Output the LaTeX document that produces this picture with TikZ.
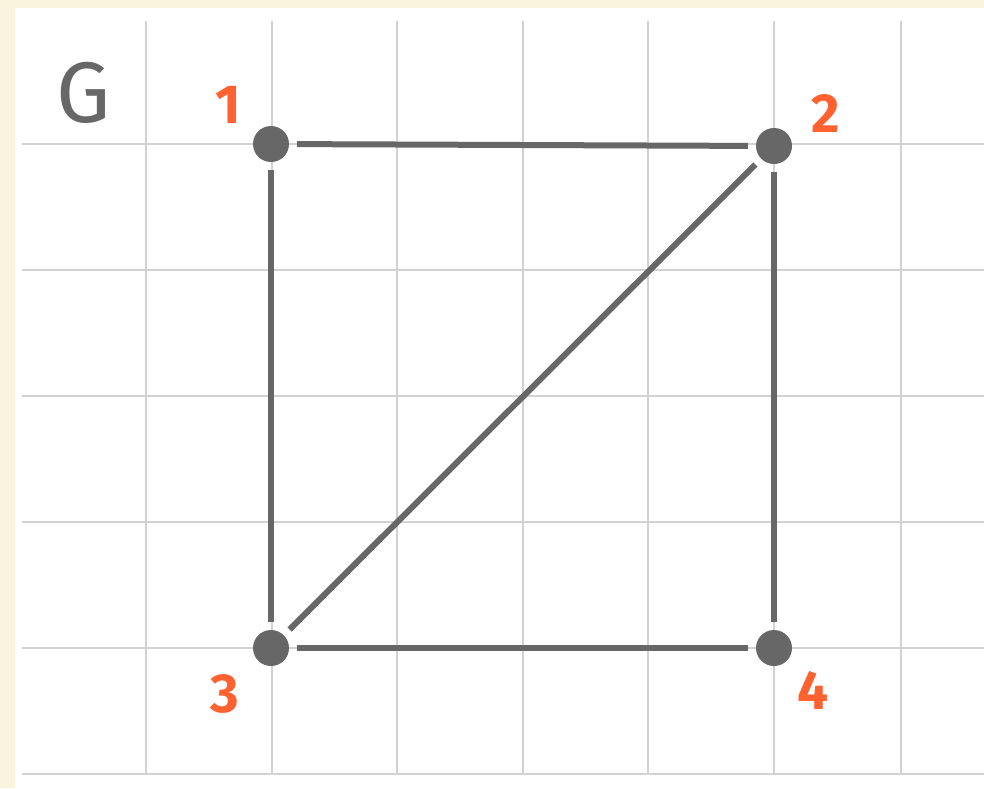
\documentclass[tikz,border=0pt]{standalone}
\usepackage{fontspec}
\setmainfont{Fira Sans}
\definecolor{cream}{HTML}{FAF4DE}
\definecolor{gridc}{HTML}{D2D2D2}
\definecolor{nodec}{HTML}{676767}
\definecolor{lab}{HTML}{FF6230}
\tikzset{
  vert/.style={circle,fill=nodec,minimum size=36pt,inner sep=0pt},
  edge/.style={draw=nodec,line width=6pt,shorten <=8pt,shorten >=8pt},
  gridline/.style={draw=gridc,line width=2pt},
  numlab/.style={text=lab,font=\fontsize{55}{55}\selectfont\bfseries,inner sep=0pt},
  title/.style={text=nodec,font=\fontsize{86}{86}\selectfont,inner sep=0pt}
}
\begin{document}
\begin{tikzpicture}[x=1pt,y=-1pt]
\useasboundingbox (0,0) rectangle (984,788);
\fill[cream] (0,0) rectangle (984,788);
\fill[white] (15,8) rectangle (984,788);
\foreach \x in {146,271.5,397,522.5,648,774,900.5}
  \draw[gridline] (\x,21) -- (\x,774);
\foreach \y in {144,270,396,522,648,774}
  \draw[gridline] (22,\y) -- (984,\y);
\node[vert] (v1) at (271,144) {};
\node[vert] (v2) at (774,146) {};
\node[vert] (v3) at (271,648) {};
\node[vert] (v4) at (774,648) {};
\draw[edge] (v1) -- (v2);
\draw[edge] (v1) -- (v3);
\draw[edge] (v2) -- (v4);
\draw[edge] (v3) -- (v4);
\draw[edge] (v3) -- (v2);
\node[title] (g) at (84,93) {G};
\node[numlab] (l1) at (228,105) {1};
\node[numlab] (l2) at (826,114) {2};
\node[numlab] (l3) at (225,694) {3};
\node[numlab] (l4) at (813,690) {4};
\end{tikzpicture}
\end{document}
